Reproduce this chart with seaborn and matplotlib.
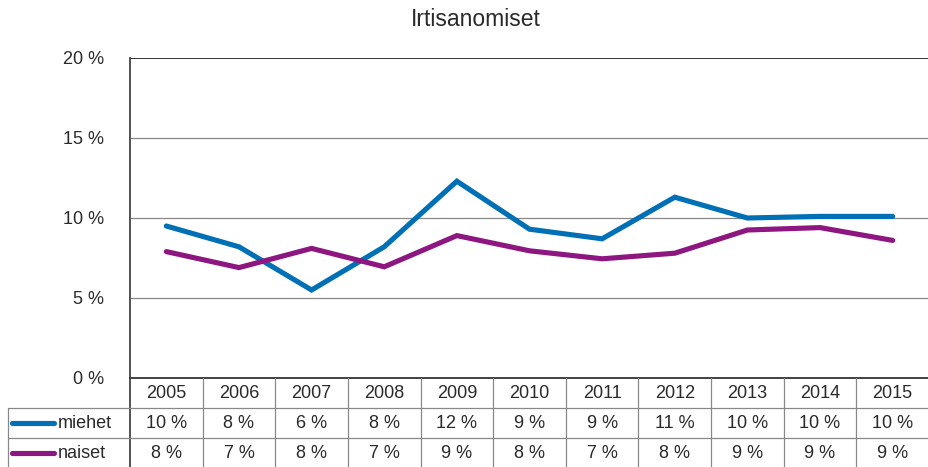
import matplotlib
matplotlib.use("Agg")
import matplotlib.pyplot as plt
import seaborn as sns
import pandas as pd
import numpy as np

years = [2005, 2006, 2007, 2008, 2009, 2010, 2011, 2012, 2013, 2014, 2015]
miehet = [9.5, 8.2, 5.5, 8.2, 12.3, 9.3, 8.7, 11.3, 10.0, 10.1, 10.1]
naiset = [7.9, 6.9, 8.1, 6.95, 8.9, 7.95, 7.45, 7.8, 9.25, 9.4, 8.6]
miehet_labels = ["10 %", "8 %", "6 %", "8 %", "12 %", "9 %", "9 %", "11 %", "10 %", "10 %", "10 %"]
naiset_labels = ["8 %", "7 %", "8 %", "7 %", "9 %", "8 %", "7 %", "8 %", "9 %", "9 %", "9 %"]
series_names = ["miehet", "naiset"]
yticks = [0, 5, 10, 15, 20]
ytick_labels = ["0 %", "5 %", "10 %", "15 %", "20 %"]
title = "Irtisanomiset"

colors = {"miehet": "#0070b6", "naiset": "#8d1680"}
W, H = 929, 467
sns.set_theme(style="white")
plt.rcParams["font.family"] = ["Liberation Sans", "DejaVu Sans"]
txt_color = "#2a2a2a"
grid_color = "#888888"

fig = plt.figure(figsize=(W / 100, H / 100), dpi=100)

# main plot area: x 130..929 px, y 58..378 px
ax = fig.add_axes([130 / W, (H - 378) / H, (W - 130) / W, (378 - 58) / H])
df = pd.DataFrame({
    "idx": list(range(len(years))) * 2,
    "value": miehet + naiset,
    "series": ["miehet"] * len(years) + ["naiset"] * len(years),
})
sns.lineplot(data=df, x="idx", y="value", hue="series", palette=colors,
             linewidth=3.7, ax=ax, legend=False, solid_capstyle="round",
             solid_joinstyle="miter")
ax.set_xlim(-0.5, len(years) - 0.5)
ax.set_ylim(0, 20)
ax.set_yticks(yticks)
ax.set_yticklabels(ytick_labels, fontsize=13, color=txt_color)
ax.set_xticks([])
ax.set_xlabel("")
ax.set_ylabel("")
ax.tick_params(axis="y", length=0, pad=18.7)
for y in [5, 10, 15]:
    ax.axhline(y, color=grid_color, lw=0.9, zorder=0)
ax.axhline(20, color="#222222", lw=1.3, zorder=0)
for s in ["right", "top"]:
    ax.spines[s].set_visible(False)
ax.spines["left"].set_color("#444444")
ax.spines["left"].set_linewidth(1.3)
ax.spines["bottom"].set_color("#333333")
ax.spines["bottom"].set_linewidth(1.3)

fig.text(476 / W, 1 - 19 / H, title, ha="center", va="center", fontsize=16.5, color=txt_color)

# data table: x 8..929 px, y 378..467 px
colw = (W - 130) / len(years)
leg_cols = (130 - 8) / colw
tab = fig.add_axes([8 / W, 0, (W - 8) / W, (H - 378) / H])
tab.set_xlim(-0.5 - leg_cols, len(years) - 0.5)
tab.set_ylim(89, 0)
tab.axis("off")
for k in range(1, len(years)):
    tab.plot([k - 0.5, k - 0.5], [0, 89], color=grid_color, lw=0.9, clip_on=False)
tab.plot([-0.5, -0.5], [0, 89], color="#444444", lw=1.3, clip_on=False)
tab.plot([-0.5 - leg_cols, -0.5 - leg_cols], [30, 89], color=grid_color, lw=0.9, clip_on=False)
for yy in [30, 60]:
    tab.plot([-0.5 - leg_cols, len(years) - 0.5], [yy, yy], color=grid_color, lw=0.9, clip_on=False)

for i, yr in enumerate(years):
    tab.text(i, 15.5, str(yr), ha="center", va="center", fontsize=13, color=txt_color)
    tab.text(i, 45.5, miehet_labels[i], ha="center", va="center", fontsize=13, color=txt_color)
    tab.text(i, 75, naiset_labels[i], ha="center", va="center", fontsize=13, color=txt_color)

px = lambda p: -0.5 - leg_cols + (p - 8) / colw
for name, yy in zip(series_names, [45, 74.5]):
    tab.plot([px(12), px(54)], [yy, yy], color=colors[name], lw=3.7,
             solid_capstyle="round", clip_on=False)
    tab.text(px(58), yy + 0.5, name, ha="left", va="center", fontsize=13, color=txt_color)

fig.savefig("out.png", dpi=100)
